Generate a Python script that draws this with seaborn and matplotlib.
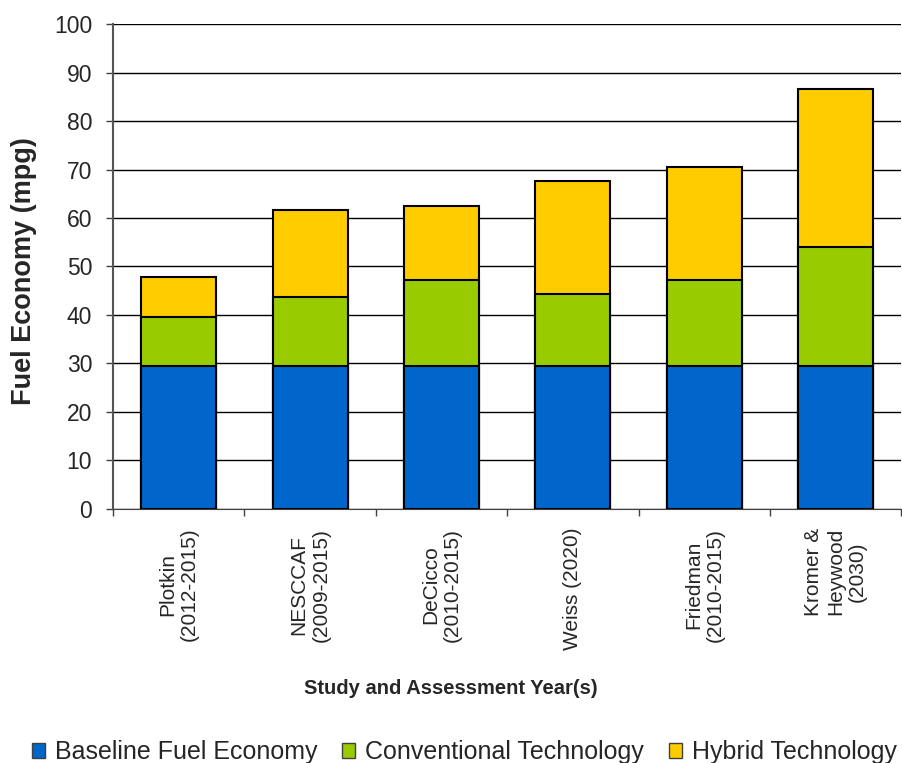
import numpy as np
import pandas as pd
import seaborn as sns
import matplotlib.pyplot as plt
from matplotlib.patches import Patch

# Data (mpg)
studies = ['Plotkin\n(2012-2015)', 'NESCCAF\n(2009-2015)', 'DeCicco\n(2010-2015)',
           'Weiss (2020)', 'Friedman\n(2010-2015)', 'Kromer &\nHeywood\n(2030)']
baseline = [29.5, 29.5, 29.5, 29.5, 29.5, 29.5]
conventional = [10.1, 14.2, 17.7, 14.8, 17.7, 24.5]
hybrid = [8.2, 17.9, 15.3, 23.3, 23.3, 32.6]

series_names = ['Baseline Fuel Economy', 'Conventional Technology', 'Hybrid Technology']
colors = ['#0066CC', '#99CC00', '#FFCC00']

df = pd.DataFrame({'Study': studies, 'Baseline': baseline,
                   'Conventional': conventional, 'Hybrid': hybrid})
df['lvl2'] = df['Baseline'] + df['Conventional']
df['lvl3'] = df['lvl2'] + df['Hybrid']

sns.set_style('white')
plt.rcParams['font.family'] = ['Liberation Sans', 'DejaVu Sans']

fig = plt.figure(figsize=(9.02, 7.63), dpi=100)
ax = fig.add_axes([0.1253, 0.333, 0.874, 0.6355])

# Stacked bars: draw the cumulative totals, tallest first
for col, c in zip(['lvl3', 'lvl2', 'Baseline'], colors[::-1]):
    sns.barplot(data=df, x='Study', y=col, color=c, width=0.57,
                edgecolor='black', linewidth=1.5, saturation=1, ax=ax, zorder=3)

ax.set_ylim(0, 100)
ax.set_yticks(range(0, 101, 10))
ax.set_xlim(-0.5, len(studies) - 0.5)
ax.grid(axis='y', color='black', linewidth=1, zorder=0)
ax.set_axisbelow(True)

for s in ['top', 'right']:
    ax.spines[s].set_visible(False)
ax.spines['left'].set_color('#555555')
ax.spines['left'].set_linewidth(1.5)
ax.spines['bottom'].set_color('#404040')

ax.tick_params(axis='y', which='major', left=True, length=5, width=1,
               color='#404040', labelsize=16.5, pad=10)
ax.tick_params(axis='x', which='major', bottom=False, labelsize=15, pad=10)
ax.set_xticks(np.arange(-0.5, len(studies)), minor=True)
ax.tick_params(axis='x', which='minor', bottom=True, length=5, width=1, color='#404040')
ax.set_xticklabels(studies, rotation=90, ha='center', va='top', multialignment='center')

ax.set_ylabel('Fuel Economy (mpg)', fontsize=19.5, fontweight='bold')
ax.yaxis.set_label_coords(-0.096, 0.49)
ax.set_xlabel('Study and Assessment Year(s)', fontsize=14.5, fontweight='bold')
ax.xaxis.set_label_coords(0.429, -0.35)

handles = [Patch(facecolor=c, edgecolor='#404040', linewidth=1) for c in colors]
fig.legend(handles, series_names, loc='center', bbox_to_anchor=(0.515, 0.014),
           ncol=3, frameon=False, fontsize=18, handlelength=0.52, handleheight=0.6,
           handletextpad=0.4, columnspacing=1.0, borderpad=0, borderaxespad=0)

fig.savefig('out.png', dpi=100)
